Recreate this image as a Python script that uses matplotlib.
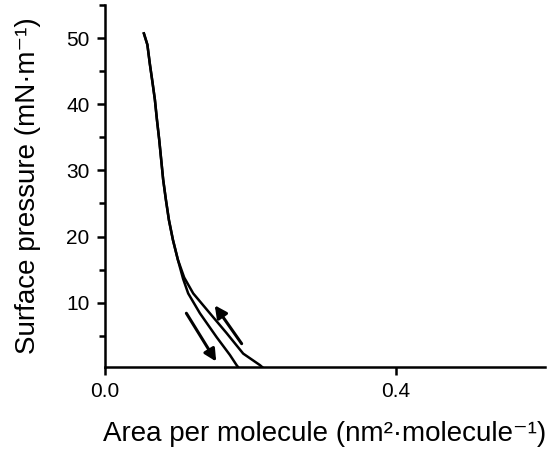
import matplotlib
matplotlib.use("Agg")
import matplotlib.pyplot as plt
from matplotlib.ticker import MultipleLocator

plt.rcParams["font.family"] = ["Liberation Sans", "DejaVu Sans"]

# shared upper branch (area nm^2/molecule, pressure mN/m)
top_area = [0.0536, 0.0584, 0.0619, 0.0653, 0.0687, 0.0715, 0.0746,
            0.0774, 0.0801, 0.0838, 0.0880, 0.0935, 0.1003]
top_pi = [50.7, 49.0, 46.0, 43.4, 40.7, 37.7, 34.7,
          31.6, 28.6, 25.6, 22.5, 19.5, 16.5]

# compression branch (lower part)
comp_area = [0.1090, 0.1214, 0.1443, 0.1673, 0.1901, 0.2131, 0.219,
             0.400, 0.600]
comp_pi = [13.8, 11.4, 8.4, 5.4, 2.3, 0.56, 0.0, 0.0, 0.0]

# expansion branch (lower part)
exp_area = [0.1075, 0.1145, 0.1306, 0.1535, 0.1718, 0.181, 0.185,
            0.400, 0.600]
exp_pi = [13.6, 11.4, 8.4, 4.8, 2.1, 0.56, 0.0, 0.0, 0.0]

# arrows: (start, end) in data coords
arrow_down = ((0.112, 8.4), (0.153, 1.1))
arrow_up = ((0.188, 3.8), (0.151, 9.6))

fig = plt.figure(figsize=(5.55, 4.54), dpi=100)
ax = fig.add_axes([0.189, 0.192, 0.793, 0.797])

ax.plot(top_area + comp_area, top_pi + comp_pi, color="black",
        linewidth=1.8, solid_joinstyle="round")
ax.plot(top_area + exp_area, top_pi + exp_pi, color="black",
        linewidth=1.8, solid_joinstyle="round")

for (x0, y0), (x1, y1) in (arrow_down, arrow_up):
    ax.annotate("", xy=(x1, y1), xytext=(x0, y0),
                arrowprops=dict(arrowstyle="-|>", color="black", lw=2.2,
                                mutation_scale=18, shrinkA=0, shrinkB=0))

ax.set_xlim(0, 0.605)
ax.set_ylim(0.3, 55)
ax.set_xticks([0.0, 0.4])
ax.set_xticklabels(["0.0", "0.4"])
ax.set_yticks([10, 20, 30, 40, 50])
ax.yaxis.set_minor_locator(MultipleLocator(5))

for s in ("top", "right"):
    ax.spines[s].set_visible(False)
for s in ("left", "bottom"):
    ax.spines[s].set_linewidth(1.8)

ax.tick_params(axis="both", which="major", direction="out", length=6,
               width=1.8, labelsize=15, pad=5)
ax.tick_params(axis="y", which="minor", direction="out", length=4, width=1.8)

ax.set_xlabel("Area per molecule (nm²·molecule⁻¹)", fontsize=20, labelpad=14)
ax.set_ylabel("Surface pressure (mN·m⁻¹)", fontsize=20, labelpad=18)

fig.savefig("out.png", dpi=100)
